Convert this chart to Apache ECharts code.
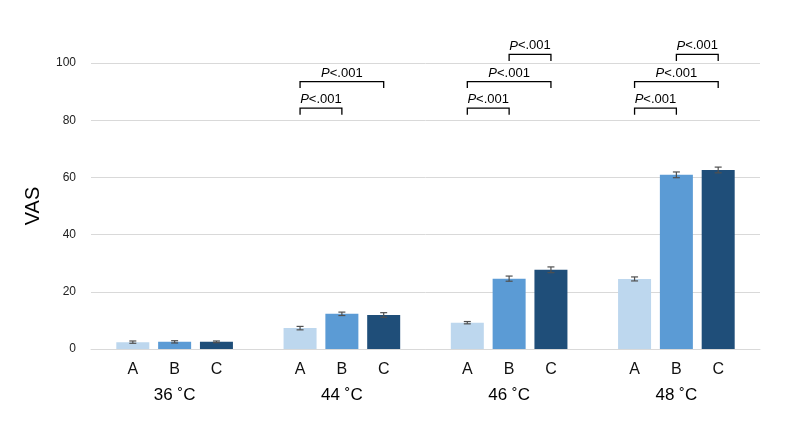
<!DOCTYPE html>
<html>
<head>
<meta charset="utf-8">
<script src="https://cdn.jsdelivr.net/npm/echarts@6/dist/echarts.min.js"></script>
<style>html,body{margin:0;padding:0;background:#fff}#c{width:787px;height:428px}</style>
</head>
<body>
<div id="c"></div>
<script>
const groups = ['36 ˚C', '44 ˚C', '46 ˚C', '48 ˚C'];
const barNames = ['A', 'B', 'C'];
const valuesA = [2.4, 7.3, 9.2, 24.5];
const valuesB = [2.5, 12.3, 24.6, 60.9];
const valuesC = [2.5, 11.9, 27.7, 62.6];
const errA = [0.4, 0.6, 0.4, 0.7];
const errB = [0.4, 0.6, 0.9, 1.0];
const errC = [0.3, 0.8, 1.0, 1.0];
const colors = ['#BDD7EE', '#5B9BD5', '#1F4E79'];
// significance brackets: [group, fromBar, toBar, bracketValue]
const brackets = [
  [1, 0, 1, 84.2],
  [1, 0, 2, 93.5],
  [2, 0, 1, 84.2],
  [2, 0, 2, 93.5],
  [2, 1, 2, 103.0],
  [3, 0, 1, 84.2],
  [3, 0, 2, 93.5],
  [3, 1, 2, 103.0]
];
const bracketLabels = ['.001', '.001', '.001', '.001', '.001', '.001', '.001', '.001'];

const allVals = [valuesA, valuesB, valuesC];
const allErr = [errA, errB, errC];
const pos = (g, i) => 4 * g + 1 + i;

const barSeries = allVals.map((vals, i) => ({
  type: 'bar',
  name: barNames[i],
  barWidth: 33,
  barGap: '-100%',
  itemStyle: { color: colors[i] },
  data: vals.map((v, g) => [pos(g, i), v]),
  z: 2
}));

const errData = [];
allVals.forEach((vals, i) => vals.forEach((v, g) => {
  errData.push([pos(g, i), v - allErr[i][g], v + allErr[i][g]]);
}));

const errSeries = {
  type: 'custom',
  z: 5,
  data: errData,
  renderItem: (params, api) => {
    const x = api.value(0);
    const lo = api.coord([x, api.value(1)]);
    const hi = api.coord([x, api.value(2)]);
    const hw = 3.5;
    const st = { stroke: '#505050', lineWidth: 1.2 };
    return {
      type: 'group',
      children: [
        { type: 'line', shape: { x1: lo[0], y1: lo[1], x2: hi[0], y2: hi[1] }, style: st },
        { type: 'line', shape: { x1: lo[0] - hw, y1: lo[1], x2: lo[0] + hw, y2: lo[1] }, style: st },
        { type: 'line', shape: { x1: hi[0] - hw, y1: hi[1], x2: hi[0] + hw, y2: hi[1] }, style: st }
      ]
    };
  }
};

const bracketSeries = {
  type: 'custom',
  z: 6,
  clip: false,
  data: brackets.map(b => [pos(b[0], b[1]), pos(b[0], b[2]), b[3]]),
  renderItem: (params, api) => {
    const p1 = api.coord([api.value(0), api.value(2)]);
    const p2 = api.coord([api.value(1), api.value(2)]);
    const d = 6.5;
    return {
      type: 'group',
      children: [
        {
          type: 'polyline',
          shape: { points: [[p1[0], p1[1] + d], [p1[0], p1[1]], [p2[0], p1[1]], [p2[0], p1[1] + d]] },
          style: { stroke: '#000', lineWidth: 1.3, fill: null }
        },
        {
          type: 'text',
          x: (p1[0] + p2[0]) / 2,
          y: p1[1] - 2,
          style: {
            text: '{i|P}<' + bracketLabels[params.dataIndex],
            rich: { i: { fontStyle: 'italic', fontSize: 13, fontFamily: 'Liberation Sans', fill: '#000' } },
            fontSize: 13,
            fontFamily: 'Liberation Sans',
            fill: '#000',
            align: 'center',
            verticalAlign: 'bottom'
          }
        }
      ]
    };
  }
};

const chart = echarts.init(document.getElementById('c'), null, { renderer: 'canvas' });
chart.setOption({
  animation: false,
  textStyle: { fontFamily: 'Liberation Sans' },
  grid: { left: 91, right: 27, top: 63, bottom: 79 },
  xAxis: [
    {
      type: 'value', min: 0, max: 16, interval: 1,
      axisLine: { show: true, lineStyle: { color: '#d9d9d9', width: 1 } },
      axisTick: { show: false },
      splitLine: { show: false },
      axisLabel: {
        margin: 13, fontSize: 16, color: '#111', fontFamily: 'Liberation Sans',
        formatter: v => (v % 4 === 0 ? '' : barNames[(v % 4) - 1])
      }
    },
    {
      type: 'category', position: 'bottom', data: groups,
      axisLine: { show: false }, axisTick: { show: false },
      axisLabel: { margin: 38, fontSize: 17, color: '#000', fontFamily: 'Liberation Sans' }
    }
  ],
  yAxis: {
    type: 'value', min: 0, max: 100, interval: 20,
    name: 'VAS', nameLocation: 'middle', nameGap: 48, nameRotate: 90,
    nameTextStyle: { fontSize: 20, color: '#000', fontFamily: 'Liberation Sans' },
    axisLine: { show: false }, axisTick: { show: false },
    splitLine: { lineStyle: { color: '#d9d9d9', width: 1 } },
    axisLabel: { margin: 15, fontSize: 12, color: '#222', fontFamily: 'Liberation Sans' }
  },
  series: [...barSeries, errSeries, bracketSeries]
});
</script>
</body>
</html>
